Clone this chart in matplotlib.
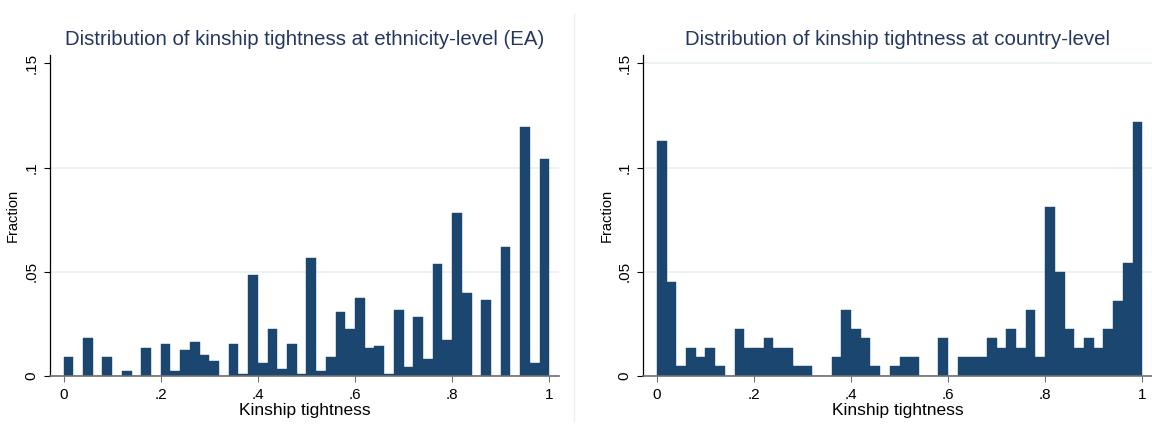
import numpy as np
import matplotlib.pyplot as plt
from matplotlib.lines import Line2D

plt.rcParams['font.family'] = ['Liberation Sans', 'DejaVu Sans']

# histogram bins: 50 bins of width .02 on [0, 1]
bin_width = 0.02
bin_left = np.arange(50) * bin_width

# share of ethnic groups per bin (EA)
frac_ethnicity = [
    0.0090, 0.0, 0.0181, 0.0, 0.0090, 0.0, 0.0022, 0.0, 0.0133, 0.0,
    0.0152, 0.0022, 0.0123, 0.0162, 0.0099, 0.0070, 0.0, 0.0152, 0.0010, 0.0484,
    0.0061, 0.0224, 0.0032, 0.0152, 0.0008, 0.0566, 0.0022, 0.0090, 0.0306, 0.0224,
    0.0373, 0.0133, 0.0143, 0.0008, 0.0316, 0.0042, 0.0282, 0.0080, 0.0537, 0.0171,
    0.0782, 0.0397, 0.0, 0.0364, 0.0, 0.0619, 0.0, 0.1196, 0.0061, 0.1042,
]

# share of countries per bin
frac_country = [
    0.1128, 0.0450, 0.0046, 0.0133, 0.0090, 0.0133, 0.0046, 0.0, 0.0224, 0.0133,
    0.0133, 0.0181, 0.0133, 0.0133, 0.0046, 0.0046, 0.0, 0.0, 0.0090, 0.0316,
    0.0224, 0.0181, 0.0046, 0.0, 0.0046, 0.0090, 0.0090, 0.0, 0.0, 0.0181,
    0.0, 0.0090, 0.0090, 0.0090, 0.0181, 0.0133, 0.0224, 0.0133, 0.0316, 0.0090,
    0.0811, 0.0498, 0.0224, 0.0133, 0.0181, 0.0133, 0.0224, 0.0359, 0.0542, 0.1220,
]

titles = ['Distribution of kinship tightness at ethnicity-level (EA)',
          'Distribution of kinship tightness at country-level']
x_ticks = [0, 0.2, 0.4, 0.6, 0.8, 1]
x_tick_labels = ['0', '.2', '.4', '.6', '.8', '1']
y_ticks = [0, 0.05, 0.1, 0.15]
y_tick_labels = ['0', '.05', '.1', '.15']

bar_color = '#1b4670'
title_color = '#243560'
grid_color = '#e8f0f1'

fig = plt.figure(figsize=(11.52, 4.33), dpi=100)
ax1 = fig.add_axes([0.0434, 0.1316, 0.4418, 0.7413])
ax2 = fig.add_axes([0.5584, 0.1316, 0.4416, 0.7413])

for ax, data, title, grid_vals in [(ax1, frac_ethnicity, titles[0], [0.05, 0.1]),
                                   (ax2, frac_country, titles[1], [0.05, 0.1, 0.15])]:
    for g in grid_vals:
        ax.axhline(g, color=grid_color, lw=1.2, zorder=0)
    ax.bar(bin_left, data, width=bin_width, align='edge', color=bar_color,
           edgecolor=bar_color, linewidth=0.3, zorder=2)
    ax.set_xlim(-0.028, 1.02)
    ax.set_ylim(0, 0.154)
    ax.set_xticks(x_ticks)
    ax.set_xticklabels(x_tick_labels)
    ax.set_yticks(y_ticks)
    ax.set_yticklabels(y_tick_labels, rotation=90, va='center')
    ax.tick_params(axis='x', length=4.5, width=0.8, color='#707070', pad=4, labelsize=11)
    ax.tick_params(axis='y', length=4.5, width=0.8, color='black', pad=4, labelsize=11)
    ax.spines['top'].set_visible(False)
    ax.spines['right'].set_visible(False)
    ax.spines['left'].set_color('black')
    ax.spines['left'].set_linewidth(0.9)
    ax.spines['bottom'].set_color('#707070')
    ax.spines['bottom'].set_linewidth(1.2)
    ax.set_xlabel('Kinship tightness', fontsize=12.5, labelpad=1)
    ax.set_ylabel('Fraction', fontsize=10.5, labelpad=3)
    ax.set_title(title, fontsize=14.7, color=title_color, pad=7)

# thin separator between the two graphs
fig.add_artist(Line2D([574 / 1152, 574 / 1152], [1 - 14 / 433, 1 - 421 / 433],
                      color='#efefef', lw=1))

fig.savefig('out.png', dpi=100)
